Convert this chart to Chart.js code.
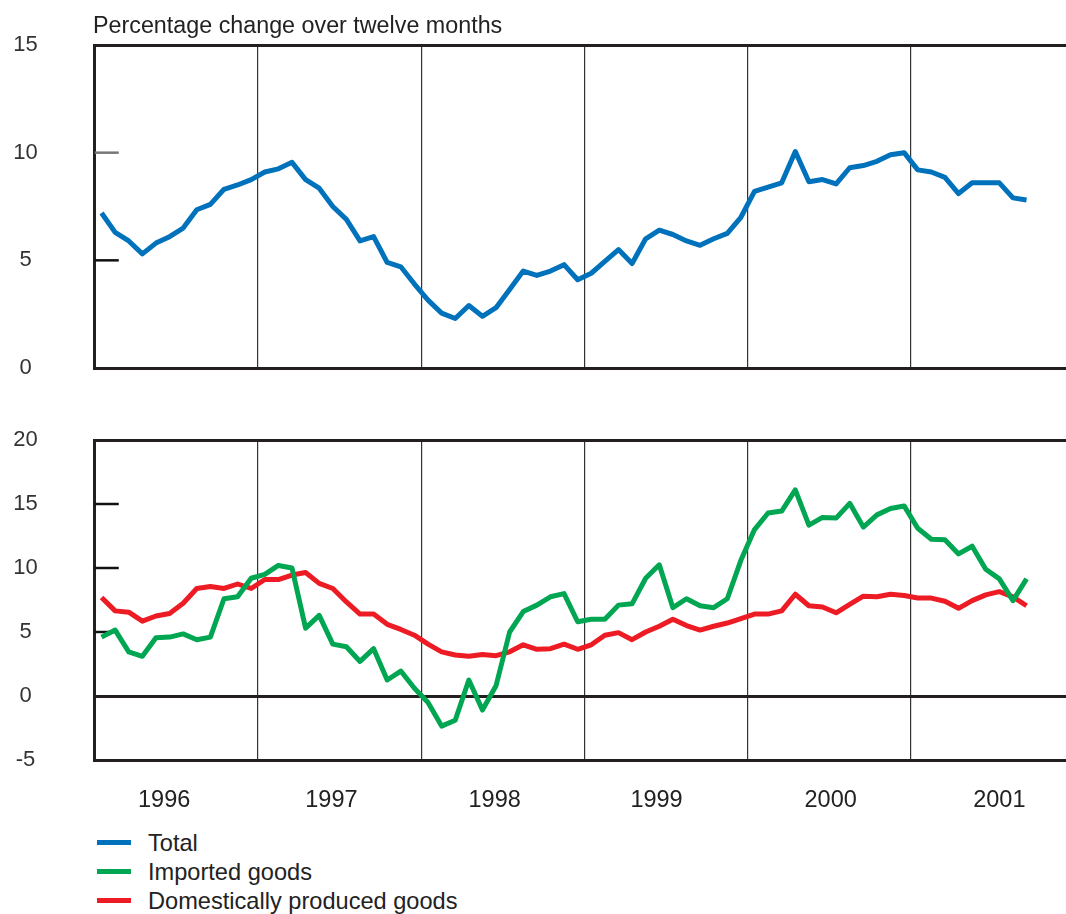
<!DOCTYPE html>
<html>
<head>
<meta charset="utf-8">
<script src="https://cdn.jsdelivr.net/npm/chart.js@4.4.0/dist/chart.umd.min.js"></script>
<style>
  body { margin: 0; background: #fff; width: 1066px; height: 914px; overflow: hidden; position: relative;
         font-family: "Liberation Sans", Arial, sans-serif; color: #222; }
  #topChart { position: absolute; left: 0; top: 0; }
  #bottomChart { position: absolute; left: 0; top: 400px; }
  .title { position: absolute; left: 93px; top: 14px; font-size: 23.3px; line-height: 1; color: #222; }
  .legend { position: absolute; left: 97px; top: 829px; }
  .legend div { position: relative; height: 29px; line-height: 29px; font-size: 23.6px; padding-left: 51px; }
  .legend span { position: absolute; left: 0; top: 11px; width: 34px; height: 5px; }
</style>
</head>
<body>
<canvas id="topChart" width="1066" height="390"></canvas>
<canvas id="bottomChart" width="1066" height="420"></canvas>
<div class="title">Percentage change over twelve months</div>
<div class="legend">
  <div><span style="background:#0072bc"></span>Total</div>
  <div><span style="background:#00a651"></span>Imported goods</div>
  <div><span style="background:#ed1c24"></span>Domestically produced goods</div>
</div>
<script>
// månader jan 1996 - sep 2001
const months = [];
for (let y = 1996; y <= 2001; y++) {
  for (let m = 1; m <= 12; m++) {
    if (y === 2001 && m > 9) break;
    months.push(y + '-' + (m < 10 ? '0' + m : m));
  }
}
const years = ['1996', '1997', '1998', '1999', '2000', '2001'];

const total = [7.2, 6.3, 5.9, 5.3, 5.8, 6.1, 6.5, 7.35, 7.6, 8.3, 8.5, 8.75,
  9.1, 9.25, 9.55, 8.75, 8.35, 7.5, 6.9, 5.9, 6.1, 4.9, 4.7, 3.9,
  3.15, 2.55, 2.3, 2.9, 2.4, 2.8, 3.65, 4.5, 4.3, 4.5, 4.8, 4.1,
  4.4, 4.95, 5.5, 4.85, 6.0, 6.4, 6.2, 5.9, 5.7, 6.0, 6.25, 7.0,
  8.2, 8.4, 8.6, 10.05, 8.65, 8.75, 8.55, 9.3, 9.4, 9.6, 9.9, 10.0,
  9.2, 9.1, 8.85, 8.1, 8.6, 8.6, 8.6, 7.9, 7.8];

const imported = [4.6, 5.15, 3.45, 3.1, 4.55, 4.6, 4.85, 4.4, 4.6, 7.6, 7.75, 9.2,
  9.5, 10.2, 10.0, 5.3, 6.3, 4.05, 3.85, 2.7, 3.7, 1.25, 1.95, 0.6,
  -0.5, -2.35, -1.9, 1.25, -1.1, 0.8, 5.0, 6.6, 7.1, 7.75, 8.0, 5.8,
  6.0, 6.0, 7.1, 7.2, 9.2, 10.25, 6.9, 7.6, 7.05, 6.9, 7.6, 10.6,
  13.0, 14.3, 14.45, 16.1, 13.35, 13.95, 13.9, 15.05, 13.2, 14.15, 14.65, 14.85,
  13.1, 12.25, 12.2, 11.1, 11.7, 9.9, 9.15, 7.45, 9.15];

const domestic = [7.7, 6.65, 6.55, 5.85, 6.25, 6.45, 7.25, 8.4, 8.55, 8.4, 8.75, 8.4,
  9.1, 9.1, 9.45, 9.65, 8.8, 8.4, 7.35, 6.4, 6.4, 5.6, 5.2, 4.75,
  4.05, 3.45, 3.2, 3.1, 3.25, 3.15, 3.45, 4.0, 3.65, 3.7, 4.05, 3.65,
  4.0, 4.75, 4.95, 4.4, 5.0, 5.45, 6.0, 5.5, 5.15, 5.45, 5.7, 6.05,
  6.4, 6.4, 6.65, 7.95, 7.05, 6.95, 6.5, 7.15, 7.8, 7.75, 7.95, 7.85,
  7.65, 7.65, 7.4, 6.85, 7.45, 7.9, 8.15, 7.75, 7.05];

// årsgränser och var årtalen står (i månader från jan 1996)
const yearBounds = [12, 24, 36, 48, 60];
const yearTickPos = [5.1, 17.4, 29.4, 41.3, 54.1, 66.5];
const xMax = 71.4;

Chart.defaults.font.family = '"Liberation Sans", Arial, sans-serif';
const frameColor = '#231f20';

function toPoints(arr) {
  return arr.map((v, i) => ({ x: i + 0.5, y: v }));
}

function lineSet(label, arr, color) {
  return {
    label: label,
    data: toPoints(arr),
    borderColor: color,
    backgroundColor: color,
    borderWidth: 5,
    pointRadius: 0,
    tension: 0,
    borderJoinStyle: 'round',
    fill: false
  };
}

// korta streck innanför y-axeln
const innerTicks = {
  id: 'innerTicks',
  beforeDatasetsDraw(chart, args, opts) {
    const ctx = chart.ctx;
    const y = chart.scales.y;
    const left = chart.chartArea.left;
    ctx.save();
    ctx.lineWidth = 2.5;
    (opts.marks || []).forEach(m => {
      const py = y.getPixelForValue(m.v);
      ctx.strokeStyle = m.c;
      ctx.beginPath();
      ctx.moveTo(left, py);
      ctx.lineTo(left + 24, py);
      ctx.stroke();
    });
    ctx.restore();
  }
};

function makeChart(id, datasets, yMin, yMax, thick, marks, showYears, padTop, padBottom) {
  const scales = {
    x: {
      type: 'linear', min: 0, max: xMax, position: 'bottom', weight: 0,
      afterBuildTicks: s => { s.ticks = yearBounds.map(v => ({ value: v })); },
      afterFit: s => { s.height = 0; },
      ticks: { display: false },
      grid: { drawTicks: false, color: '#333', lineWidth: 1.2 },
      border: { display: true, width: 3, color: frameColor }
    },
    y: {
      min: yMin, max: yMax,
      afterFit: s => { s.width = 94.75; },
      ticks: { stepSize: 5, padding: 0, crossAlign: 'center', color: '#333', font: { size: 22 } },
      grid: {
        drawTicks: true,
        tickLength: 57,
        tickColor: 'rgba(0,0,0,0)',
        lineWidth: c => thick.includes(c.tick.value) ? 3 : 0,
        color: c => thick.includes(c.tick.value) ? frameColor : 'rgba(0,0,0,0)'
      },
      border: { display: true, width: 3, color: frameColor }
    }
  };
  if (showYears) {
    scales.xl = {
      type: 'linear', min: 0, max: xMax, position: 'bottom', weight: 1,
      afterBuildTicks: s => { s.ticks = yearTickPos.map(v => ({ value: v })); },
      afterFit: s => { s.height = 60; },
      ticks: {
        padding: 18, color: '#222', font: { size: 23.5 }, maxRotation: 0, autoSkip: false,
        callback: (v, i) => years[i]
      },
      grid: { display: false },
      border: { display: false }
    };
  }
  return new Chart(document.getElementById(id), {
    type: 'line',
    data: { datasets: datasets },
    options: {
      responsive: false,
      animation: false,
      events: [],
      layout: { padding: { top: padTop, left: 0, right: 0, bottom: padBottom } },
      scales: scales,
      plugins: {
        legend: { display: false },
        tooltip: { enabled: false },
        innerTicks: { marks: marks }
      }
    },
    plugins: [innerTicks]
  });
}

makeChart('topChart',
  [lineSet('Total', total, '#0072bc')],
  0, 15, [15],
  [{ v: 10, c: '#777' }, { v: 5, c: '#111' }],
  false, 45, 22);

makeChart('bottomChart',
  [lineSet('Imported goods', imported, '#00a651'),
   lineSet('Domestically produced goods', domestic, '#ed1c24')],
  -5, 20, [20, 0],
  [{ v: 15, c: '#111' }, { v: 10, c: '#111' }, { v: 5, c: '#111' }],
  true, 40, 0);
</script>
</body>
</html>
